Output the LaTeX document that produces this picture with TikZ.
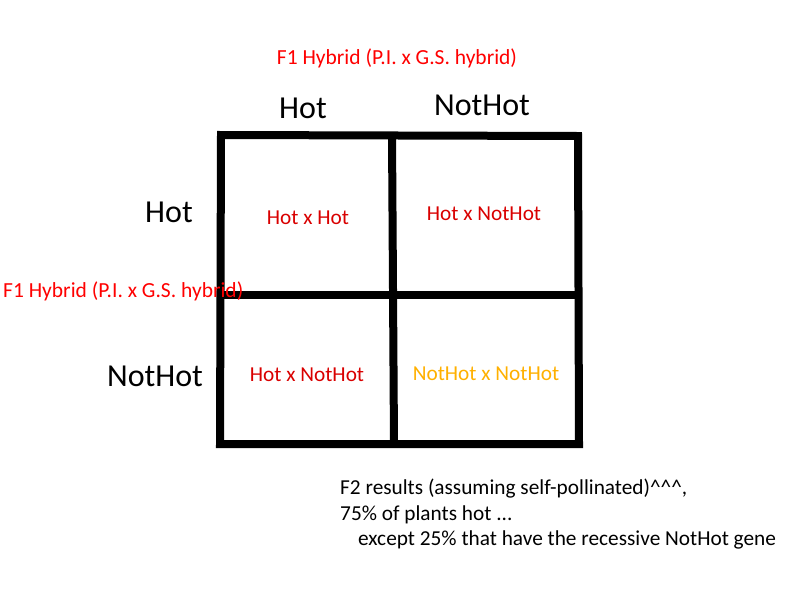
\documentclass[tikz,border=0pt]{standalone}
\usepackage{fontspec}
\setmainfont{Carlito}
\usetikzlibrary{positioning}
\definecolor{cellred}{HTML}{D90000}
\definecolor{recorange}{HTML}{FFB000}
\tikzset{
  header/.style = {font=\fontsize{32}{36}\selectfont, inner sep=0pt},
  f1/.style     = {font=\fontsize{21.5}{25}\selectfont, text=red, inner sep=0pt},
  cell/.style   = {font=\fontsize{21.3}{25}\selectfont, text=cellred, inner sep=0pt},
  grid/.style   = {line width=8pt, line cap=square}
}

\begin{document}
\begin{tikzpicture}[x=1pt,y=-1pt]
\useasboundingbox (0,0) rectangle (800,600);
\node[f1] (f1top) at (397,58) {F1 Hybrid (P.I. x G.S. hybrid)};
\node[header] (colhot) at (303,108) {Hot};
\node[header] (colnot) at (482,105) {NotHot};
\node[header] (rowhot) at (169,212) {Hot};
\node[header] (rownot) at (155,376) {NotHot};
% the square
\coordinate (tl) at (221,135);
\coordinate (tr) at (578,136);
\coordinate (bl) at (220,444);
\coordinate (br) at (579,444);
\coordinate (mt) at (392,135);
\coordinate (mb) at (394,444);
\coordinate (ml) at (221,295);
\coordinate (mr) at (578,295);
\draw[grid] (tl) -- (tr) -- (br) -- (bl) -- cycle;
\draw[grid] (mt) -- (mb);
\draw[grid] (ml) -- (mr);
\node[f1, anchor=west] (f1left) at (3,291) {F1 Hybrid (P.I. x G.S. hybrid)};
\node[cell] (c1) at (308,218) {Hot x Hot};
\node[cell] (c2) at (484,214) {Hot x NotHot};
\node[cell] (c3) at (307,375) {Hot x NotHot};
\node[cell, text=recorange] (c4) at (486,374) {NotHot x NotHot};
\node[anchor=north west, align=left, inner sep=0pt,
  font=\fontsize{21.3}{25.3}\selectfont] (f2) at (340,479)
  {F2 results (assuming self-pollinated)\^{}\^{}\^{},\\
   75\% of plants hot ...\\
   \hspace*{18pt}except 25\% that have the recessive NotHot gene};
\end{tikzpicture}
\end{document}
